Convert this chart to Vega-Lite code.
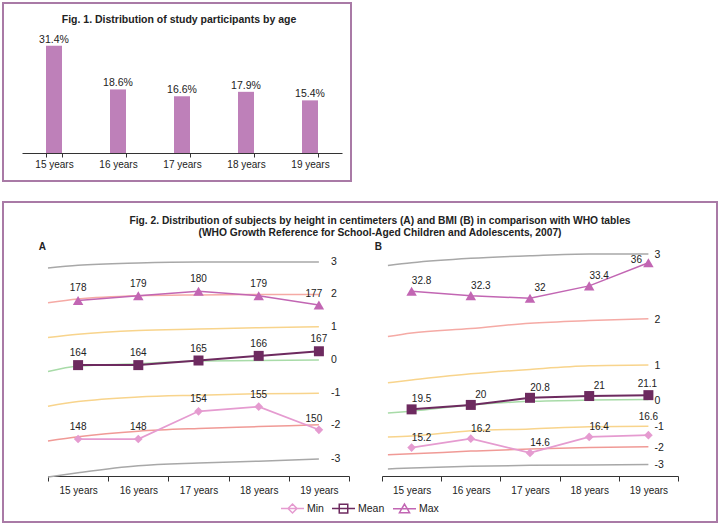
{
  "$schema": "https://vega.github.io/schema/vega-lite/v6.json",
  "padding": {"left": 2, "top": 2, "right": 0, "bottom": 0},
  "spacing": 19,
  "config": {
    "view": {"stroke": "#a97aa6", "strokeWidth": 2},
    "font": "Liberation Sans",
    "text": {"color": "#222222"}
  },
  "vconcat": [
    {
      "width": 348,
      "height": 178,
      "title": {"text": "Fig. 1. Distribution of study participants by age", "fontSize": 10.5, "fontWeight": "bold", "color": "#222222", "anchor": "middle", "frame": "group", "offset": 0, "baseline": "top", "dy": 22, "dx": 2},
      "data": {"values": [
        {"age": "15 years", "share": 0.314},
        {"age": "16 years", "share": 0.186},
        {"age": "17 years", "share": 0.166},
        {"age": "18 years", "share": 0.179},
        {"age": "19 years", "share": 0.154}
      ]},
      "encoding": {
        "x": {"field": "age", "type": "ordinal", "sort": null,
          "scale": {"range": [19, 339], "paddingInner": 0.75, "paddingOuter": 0.375},
          "axis": {"title": null, "labelAngle": 0, "offset": -28, "tickBand": "extent", "domainColor": "#333333", "tickColor": "#333333", "tickSize": 4, "labelFontSize": 10, "labelColor": "#222222", "labelPadding": 2}},
        "y": {"field": "share", "type": "quantitative", "scale": {"domain": [0, 0.4], "range": [150, 13.3]}, "axis": null}
      },
      "layer": [
        {"mark": {"type": "bar", "color": "#be80b9"}},
        {"mark": {"type": "text", "baseline": "bottom", "dy": -1, "fontSize": 10.5}, "encoding": {"text": {"field": "share", "format": ".1%"}}}
      ]
    },
    {
      "width": 714,
      "height": 320,
      "title": {"text": ["Fig. 2. Distribution of subjects by height in centimeters (A) and BMI (B) in comparison with WHO tables", "(WHO Growth Reference for School-Aged Children and Adolescents, 2007)"], "fontSize": 10.25, "fontWeight": "bold", "lineHeight": 12.5, "color": "#222222", "anchor": "middle", "frame": "group", "offset": 0, "baseline": "top", "dy": 36.5, "dx": 20},
      "data": {"values": [
        {"p": "A", "k": "c", "sd": "3", "age": 14.5, "v": 185.0},
        {"p": "A", "k": "c", "sd": "3", "age": 15, "v": 185.6},
        {"p": "A", "k": "c", "sd": "3", "age": 16, "v": 186.1},
        {"p": "A", "k": "c", "sd": "3", "age": 17, "v": 186.3},
        {"p": "A", "k": "c", "sd": "3", "age": 18, "v": 186.3},
        {"p": "A", "k": "c", "sd": "3", "age": 19, "v": 186.3},
        {"p": "A", "k": "c", "sd": "2", "age": 14.5, "v": 177.5},
        {"p": "A", "k": "c", "sd": "2", "age": 15, "v": 178.3},
        {"p": "A", "k": "c", "sd": "2", "age": 16, "v": 179.0},
        {"p": "A", "k": "c", "sd": "2", "age": 17, "v": 179.2},
        {"p": "A", "k": "c", "sd": "2", "age": 18, "v": 179.3},
        {"p": "A", "k": "c", "sd": "2", "age": 19, "v": 179.3},
        {"p": "A", "k": "c", "sd": "1", "age": 14.5, "v": 170.0},
        {"p": "A", "k": "c", "sd": "1", "age": 15, "v": 170.7},
        {"p": "A", "k": "c", "sd": "1", "age": 16, "v": 171.5},
        {"p": "A", "k": "c", "sd": "1", "age": 17, "v": 171.8},
        {"p": "A", "k": "c", "sd": "1", "age": 18, "v": 172.1},
        {"p": "A", "k": "c", "sd": "1", "age": 19, "v": 172.3},
        {"p": "A", "k": "c", "sd": "0", "age": 14.5, "v": 162.6},
        {"p": "A", "k": "c", "sd": "0", "age": 15, "v": 163.8},
        {"p": "A", "k": "c", "sd": "0", "age": 16, "v": 164.3},
        {"p": "A", "k": "c", "sd": "0", "age": 17, "v": 164.9},
        {"p": "A", "k": "c", "sd": "0", "age": 18, "v": 165.0},
        {"p": "A", "k": "c", "sd": "0", "age": 19, "v": 165.1},
        {"p": "A", "k": "c", "sd": "-1", "age": 14.5, "v": 155.1},
        {"p": "A", "k": "c", "sd": "-1", "age": 15, "v": 156.1},
        {"p": "A", "k": "c", "sd": "-1", "age": 16, "v": 157.1},
        {"p": "A", "k": "c", "sd": "-1", "age": 17, "v": 157.5},
        {"p": "A", "k": "c", "sd": "-1", "age": 18, "v": 157.8},
        {"p": "A", "k": "c", "sd": "-1", "age": 19, "v": 157.9},
        {"p": "A", "k": "c", "sd": "-2", "age": 14.5, "v": 147.6},
        {"p": "A", "k": "c", "sd": "-2", "age": 15, "v": 148.5},
        {"p": "A", "k": "c", "sd": "-2", "age": 16, "v": 149.7},
        {"p": "A", "k": "c", "sd": "-2", "age": 17, "v": 150.3},
        {"p": "A", "k": "c", "sd": "-2", "age": 18, "v": 150.7},
        {"p": "A", "k": "c", "sd": "-2", "age": 19, "v": 151.1},
        {"p": "A", "k": "c", "sd": "-3", "age": 14.5, "v": 139.8},
        {"p": "A", "k": "c", "sd": "-3", "age": 15, "v": 140.7},
        {"p": "A", "k": "c", "sd": "-3", "age": 16, "v": 142.2},
        {"p": "A", "k": "c", "sd": "-3", "age": 17, "v": 142.8},
        {"p": "A", "k": "c", "sd": "-3", "age": 18, "v": 143.2},
        {"p": "A", "k": "c", "sd": "-3", "age": 19, "v": 143.7},
        {"p": "B", "k": "c", "sd": "3", "age": 14.6, "v": 35.7},
        {"p": "B", "k": "c", "sd": "3", "age": 15, "v": 36.0},
        {"p": "B", "k": "c", "sd": "3", "age": 16, "v": 36.5},
        {"p": "B", "k": "c", "sd": "3", "age": 17, "v": 36.8},
        {"p": "B", "k": "c", "sd": "3", "age": 18, "v": 37.0},
        {"p": "B", "k": "c", "sd": "3", "age": 19, "v": 37.0},
        {"p": "B", "k": "c", "sd": "2", "age": 14.6, "v": 27.7},
        {"p": "B", "k": "c", "sd": "2", "age": 15, "v": 28.1},
        {"p": "B", "k": "c", "sd": "2", "age": 16, "v": 28.6},
        {"p": "B", "k": "c", "sd": "2", "age": 17, "v": 29.2},
        {"p": "B", "k": "c", "sd": "2", "age": 18, "v": 29.5},
        {"p": "B", "k": "c", "sd": "2", "age": 19, "v": 29.7},
        {"p": "B", "k": "c", "sd": "1", "age": 14.6, "v": 22.5},
        {"p": "B", "k": "c", "sd": "1", "age": 15, "v": 22.8},
        {"p": "B", "k": "c", "sd": "1", "age": 16, "v": 23.5},
        {"p": "B", "k": "c", "sd": "1", "age": 17, "v": 24.0},
        {"p": "B", "k": "c", "sd": "1", "age": 18, "v": 24.4},
        {"p": "B", "k": "c", "sd": "1", "age": 19, "v": 24.5},
        {"p": "B", "k": "c", "sd": "0", "age": 14.6, "v": 19.1},
        {"p": "B", "k": "c", "sd": "0", "age": 15, "v": 19.3},
        {"p": "B", "k": "c", "sd": "0", "age": 16, "v": 20.0},
        {"p": "B", "k": "c", "sd": "0", "age": 17, "v": 20.4},
        {"p": "B", "k": "c", "sd": "0", "age": 18, "v": 20.55},
        {"p": "B", "k": "c", "sd": "0", "age": 19, "v": 20.6},
        {"p": "B", "k": "c", "sd": "-1", "age": 14.6, "v": 16.4},
        {"p": "B", "k": "c", "sd": "-1", "age": 15, "v": 16.5},
        {"p": "B", "k": "c", "sd": "-1", "age": 16, "v": 17.1},
        {"p": "B", "k": "c", "sd": "-1", "age": 17, "v": 17.3},
        {"p": "B", "k": "c", "sd": "-1", "age": 18, "v": 17.55},
        {"p": "B", "k": "c", "sd": "-1", "age": 19, "v": 17.6},
        {"p": "B", "k": "c", "sd": "-2", "age": 14.6, "v": 14.4},
        {"p": "B", "k": "c", "sd": "-2", "age": 15, "v": 14.5},
        {"p": "B", "k": "c", "sd": "-2", "age": 16, "v": 14.8},
        {"p": "B", "k": "c", "sd": "-2", "age": 17, "v": 15.05},
        {"p": "B", "k": "c", "sd": "-2", "age": 18, "v": 15.2},
        {"p": "B", "k": "c", "sd": "-2", "age": 19, "v": 15.3},
        {"p": "B", "k": "c", "sd": "-3", "age": 14.6, "v": 12.8},
        {"p": "B", "k": "c", "sd": "-3", "age": 15, "v": 12.9},
        {"p": "B", "k": "c", "sd": "-3", "age": 16, "v": 13.1},
        {"p": "B", "k": "c", "sd": "-3", "age": 17, "v": 13.2},
        {"p": "B", "k": "c", "sd": "-3", "age": 18, "v": 13.25},
        {"p": "B", "k": "c", "sd": "-3", "age": 19, "v": 13.3},
        {"p": "A", "k": "s", "series": "Min", "age": 15, "v": 148},
        {"p": "A", "k": "s", "series": "Min", "age": 16, "v": 148},
        {"p": "A", "k": "s", "series": "Min", "age": 17, "v": 154},
        {"p": "A", "k": "s", "series": "Min", "age": 18, "v": 155},
        {"p": "A", "k": "s", "series": "Min", "age": 19, "v": 150},
        {"p": "A", "k": "s", "series": "Mean", "age": 15, "v": 164},
        {"p": "A", "k": "s", "series": "Mean", "age": 16, "v": 164},
        {"p": "A", "k": "s", "series": "Mean", "age": 17, "v": 165},
        {"p": "A", "k": "s", "series": "Mean", "age": 18, "v": 166},
        {"p": "A", "k": "s", "series": "Mean", "age": 19, "v": 167},
        {"p": "A", "k": "s", "series": "Max", "age": 15, "v": 178},
        {"p": "A", "k": "s", "series": "Max", "age": 16, "v": 179},
        {"p": "A", "k": "s", "series": "Max", "age": 17, "v": 180},
        {"p": "A", "k": "s", "series": "Max", "age": 18, "v": 179},
        {"p": "A", "k": "s", "series": "Max", "age": 19, "v": 177},
        {"p": "B", "k": "s", "series": "Min", "age": 15, "v": 15.2},
        {"p": "B", "k": "s", "series": "Min", "age": 16, "v": 16.2},
        {"p": "B", "k": "s", "series": "Min", "age": 17, "v": 14.6},
        {"p": "B", "k": "s", "series": "Min", "age": 18, "v": 16.4},
        {"p": "B", "k": "s", "series": "Min", "age": 19, "v": 16.6},
        {"p": "B", "k": "s", "series": "Mean", "age": 15, "v": 19.5},
        {"p": "B", "k": "s", "series": "Mean", "age": 16, "v": 20},
        {"p": "B", "k": "s", "series": "Mean", "age": 17, "v": 20.8},
        {"p": "B", "k": "s", "series": "Mean", "age": 18, "v": 21},
        {"p": "B", "k": "s", "series": "Mean", "age": 19, "v": 21.1},
        {"p": "B", "k": "s", "series": "Max", "age": 15, "v": 32.8},
        {"p": "B", "k": "s", "series": "Max", "age": 16, "v": 32.3},
        {"p": "B", "k": "s", "series": "Max", "age": 17, "v": 32},
        {"p": "B", "k": "s", "series": "Max", "age": 18, "v": 33.4},
        {"p": "B", "k": "s", "series": "Max", "age": 19, "v": 36}
      ]},
      "layer": [
        {
          "transform": [{"filter": "datum.p === 'A'"}],
          "encoding": {
            "x": {"field": "age", "type": "quantitative",
              "scale": {"domain": [14.5, 19.5], "range": [45, 346], "nice": false, "zero": false},
              "axis": {"orient": "bottom", "title": null, "grid": false, "offset": -46,
                "values": [14.5, 15, 15.5, 16, 16.5, 17, 17.5, 18, 18.5, 19, 19.5],
                "labelExpr": "datum.value % 1 === 0 ? datum.value + ' years' : ''",
                "tickOpacity": {"condition": {"test": "datum.value % 1 === 0", "value": 0}, "value": 1},
                "tickSize": 5, "domainColor": "#333333", "tickColor": "#333333", "labelFontSize": 10, "labelColor": "#222222", "labelPadding": 4, "labelOverlap": false, "labelFlush": false, "labelBound": false}},
            "y": {"field": "v", "type": "quantitative", "scale": {"domain": [140, 190], "range": [274, 43], "nice": false, "zero": false}, "axis": null}
          },
          "layer": [
            {"transform": [{"filter": "datum.k === 'c'"}],
             "mark": {"type": "line", "interpolate": "monotone", "strokeWidth": 1.5},
             "encoding": {"color": {"field": "sd", "type": "nominal", "scale": {"domain": ["3", "2", "1", "0", "-1", "-2", "-3"], "range": ["#a8a8a8", "#f5aaa5", "#f8d48c", "#a8dba8", "#f8d48c", "#f09a96", "#a8a8a8"]}, "legend": null}}},
            {"transform": [{"filter": "datum.k === 'c' && datum.age === 19"}],
             "mark": {"type": "text", "align": "left", "baseline": "middle", "dx": 12, "fontSize": 10.5},
             "encoding": {"text": {"field": "sd", "type": "nominal"}}},
            {"transform": [{"filter": "datum.k === 's' && datum.series === 'Max' && datum.age === 15"}],
             "mark": {"type": "text", "align": "right", "baseline": "middle", "dx": -2, "dy": 2, "fontSize": 10, "fontWeight": "bold", "text": "A"},
             "encoding": {"x": {"datum": 14.5}, "y": {"datum": 190}}},
            {"transform": [{"filter": "datum.k === 's'"}],
             "mark": {"type": "point", "filled": true, "opacity": 0, "size": 10},
             "encoding": {
               "fill": {"field": "series", "type": "nominal", "scale": {"domain": ["Min", "Mean", "Max"], "range": ["#e59bd0", "#6d2a5f", "#c266b3"]},
                 "legend": {"orient": "none", "legendX": 277, "legendY": 493, "direction": "horizontal", "title": null, "symbolSize": 529, "symbolOpacity": 1, "symbolStrokeWidth": 1.5, "labelFontSize": 10.5, "labelColor": "#222222", "labelOffset": 2, "columnPadding": 5, "padding": 0}},
               "stroke": {"field": "series", "type": "nominal", "scale": {"domain": ["Min", "Mean", "Max"], "range": ["#e59bd0", "#6d2a5f", "#c266b3"]}},
               "shape": {"field": "series", "type": "nominal", "scale": {"domain": ["Min", "Mean", "Max"], "range": ["M-1,0H1M0,-0.39L0.39,0L0,0.39L-0.39,0Z", "M-1,0H1M-0.37,-0.37H0.37V0.37H-0.37Z", "M-1,0H1M0,-0.42L0.44,0.33H-0.44Z"]}}}},
            {"transform": [{"filter": "datum.k === 's'"}],
             "mark": {"type": "line"},
             "encoding": {
               "stroke": {"field": "series", "type": "nominal", "scale": {"domain": ["Min", "Mean", "Max"], "range": ["#e59bd0", "#6d2a5f", "#c266b3"]}},
               "strokeWidth": {"field": "series", "type": "nominal", "scale": {"domain": ["Mean", "Min", "Max"], "range": [2, 1.5, 1.5]}, "legend": null}}},
            {"transform": [{"filter": "datum.k === 's' && datum.series === 'Min'"}],
             "mark": {"type": "point", "filled": true, "opacity": 1, "shape": "diamond", "size": 75, "color": "#e59bd0"}},
            {"transform": [{"filter": "datum.k === 's' && datum.series === 'Mean'"}],
             "mark": {"type": "point", "filled": true, "opacity": 1, "shape": "square", "size": 100, "color": "#6d2a5f"}},
            {"transform": [{"filter": "datum.k === 's' && datum.series === 'Max'"}],
             "mark": {"type": "point", "filled": true, "opacity": 1, "shape": "triangle-up", "size": 110, "color": "#c266b3"}},
            {"transform": [{"filter": "datum.k === 's' && (datum.age < 19 || datum.series === 'Mean')"}],
             "mark": {"type": "text", "baseline": "middle", "dy": -12, "fontSize": 10},
             "encoding": {"text": {"field": "v", "type": "nominal"}}},
            {"transform": [{"filter": "datum.k === 's' && datum.age === 19 && datum.series !== 'Mean'"}],
             "mark": {"type": "text", "baseline": "middle", "dx": -5, "dy": -11, "fontSize": 10},
             "encoding": {"text": {"field": "v", "type": "nominal"}}}
          ]
        },
        {
          "transform": [{"filter": "datum.p === 'B'"}],
          "encoding": {
            "x": {"field": "age", "type": "quantitative",
              "scale": {"domain": [14.5, 19.5], "range": [379, 675], "nice": false, "zero": false},
              "axis": {"orient": "bottom", "title": null, "grid": false, "offset": -46,
                "values": [14.5, 15, 15.5, 16, 16.5, 17, 17.5, 18, 18.5, 19, 19.5],
                "labelExpr": "datum.value % 1 === 0 ? datum.value + ' years' : ''",
                "tickOpacity": {"condition": {"test": "datum.value % 1 === 0", "value": 0}, "value": 1},
                "tickSize": 5, "domainColor": "#333333", "tickColor": "#333333", "labelFontSize": 10, "labelColor": "#222222", "labelPadding": 4, "labelOverlap": false, "labelFlush": false, "labelBound": false}},
            "y": {"field": "v", "type": "quantitative", "scale": {"domain": [12, 38], "range": [274, 43], "nice": false, "zero": false}, "axis": null}
          },
          "layer": [
            {"transform": [{"filter": "datum.k === 'c'"}],
             "mark": {"type": "line", "interpolate": "monotone", "strokeWidth": 1.5},
             "encoding": {"color": {"field": "sd", "type": "nominal", "scale": {"domain": ["3", "2", "1", "0", "-1", "-2", "-3"], "range": ["#a8a8a8", "#f5aaa5", "#f8d48c", "#a8dba8", "#f8d48c", "#f09a96", "#a8a8a8"]}, "legend": null}}},
            {"transform": [{"filter": "datum.k === 'c' && datum.age === 19"}],
             "mark": {"type": "text", "align": "left", "baseline": "middle", "dx": 6, "dy": 1, "fontSize": 10.5},
             "encoding": {"text": {"field": "sd", "type": "nominal"}}},
            {"transform": [{"filter": "datum.k === 's' && datum.series === 'Max' && datum.age === 15"}],
             "mark": {"type": "text", "align": "right", "baseline": "middle", "dx": 0, "dy": 2, "fontSize": 10, "fontWeight": "bold", "text": "B"},
             "encoding": {"x": {"datum": 14.5}, "y": {"datum": 38}}},
            {"transform": [{"filter": "datum.k === 's'"}],
             "mark": {"type": "line"},
             "encoding": {
               "stroke": {"field": "series", "type": "nominal", "scale": {"domain": ["Min", "Mean", "Max"], "range": ["#e59bd0", "#6d2a5f", "#c266b3"]}},
               "strokeWidth": {"field": "series", "type": "nominal", "scale": {"domain": ["Mean", "Min", "Max"], "range": [2, 1.5, 1.5]}, "legend": null}}},
            {"transform": [{"filter": "datum.k === 's' && datum.series === 'Min'"}],
             "mark": {"type": "point", "filled": true, "opacity": 1, "shape": "diamond", "size": 75, "color": "#e59bd0"}},
            {"transform": [{"filter": "datum.k === 's' && datum.series === 'Mean'"}],
             "mark": {"type": "point", "filled": true, "opacity": 1, "shape": "square", "size": 100, "color": "#6d2a5f"}},
            {"transform": [{"filter": "datum.k === 's' && datum.series === 'Max'"}],
             "mark": {"type": "point", "filled": true, "opacity": 1, "shape": "triangle-up", "size": 110, "color": "#c266b3"}},
            {"transform": [{"filter": "datum.k === 's' && datum.age < 19"}],
             "mark": {"type": "text", "baseline": "middle", "dx": 10, "dy": -10, "fontSize": 10},
             "encoding": {"text": {"field": "v", "type": "nominal"}}},
            {"transform": [{"filter": "datum.k === 's' && datum.age === 19 && datum.series === 'Max'"}],
             "mark": {"type": "text", "baseline": "middle", "dx": -12, "dy": -3, "fontSize": 10},
             "encoding": {"text": {"field": "v", "type": "nominal"}}},
            {"transform": [{"filter": "datum.k === 's' && datum.age === 19 && datum.series === 'Mean'"}],
             "mark": {"type": "text", "baseline": "middle", "dx": -1, "dy": -11, "fontSize": 10},
             "encoding": {"text": {"field": "v", "type": "nominal"}}},
            {"transform": [{"filter": "datum.k === 's' && datum.age === 19 && datum.series === 'Min'"}],
             "mark": {"type": "text", "baseline": "middle", "dx": 0, "dy": -18, "fontSize": 10},
             "encoding": {"text": {"field": "v", "type": "nominal"}}}
          ]
        }
      ],
      "resolve": {"scale": {"x": "independent", "y": "independent"}, "axis": {"x": "independent"}}
    }
  ]
}
